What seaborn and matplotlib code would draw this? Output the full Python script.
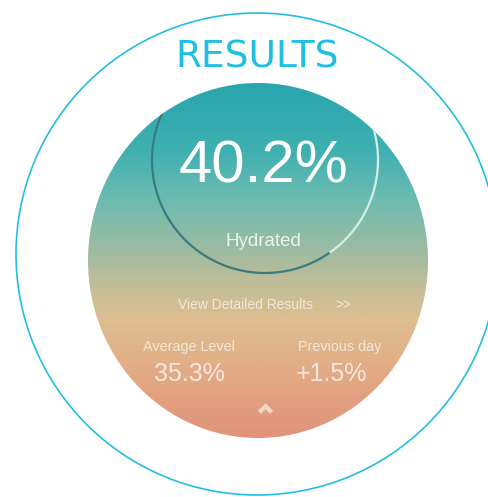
import numpy as np
import matplotlib
matplotlib.use("Agg")
import matplotlib.pyplot as plt
import seaborn as sns
from matplotlib.colors import LinearSegmentedColormap
from matplotlib.patches import Ellipse, Circle, Arc
from matplotlib.path import Path

sns.set_theme(style="white")
plt.rcParams['font.family'] = ['Liberation Sans', 'DejaVu Sans']

# chart content
title = "RESULTS"
main_value = "40.2%"
main_label = "Hydrated"
link_text = "View Detailed Results"
stat_labels = ["Average Level", "Previous day"]
stat_values = ["35.3%", "+1.5%"]

# vertical gradient of the disc (position, colour)
grad_pos = [0.0, 0.19, 0.33, 0.47, 0.58, 0.67, 0.78, 0.89, 1.0]
grad_col = ["#28a6ae", "#3fb0b0", "#6ebcb0", "#9dbba0", "#c6bd98",
            "#ddbd90", "#e2b088", "#e2a080", "#e0937a"]

W, H = 488, 497
fig = plt.figure(figsize=(W / 100, H / 100), dpi=100)
ax = fig.add_axes([0, 0, 1, 1])
ax.set_xlim(0, W)
ax.set_ylim(H, 0)
ax.axis("off")

# outer thin ring
ax.add_patch(Circle((257, 254), 241, fill=False, ec="#22bfe2", lw=1.2))

# gradient disc
disc = Ellipse((258, 260.5), 340, 355, fc="none", ec="none")
ax.add_patch(disc)
cmap = LinearSegmentedColormap.from_list("disc", list(zip(grad_pos, grad_col)))
grad = np.linspace(0, 1, 256)[:, None]
img = ax.imshow(grad, cmap=cmap, extent=(88, 428, 438, 83), origin="upper",
                aspect="auto", interpolation="bilinear")
img.set_clip_path(disc)

# progress ring inside disc
dark = Arc((265, 160), 226, 226, theta1=55, theta2=270, color="#3b7b80", lw=1.6)
light = Arc((265, 160), 226, 226, theta1=-90, theta2=55, color="#d6ece8", lw=1.6)
for a in (dark, light):
    ax.add_patch(a)
    a.set_clip_path(disc)

# texts
ax.text(257, 58, title, color="#1fbfe3", fontsize=27, ha="center", va="center",
        family=["DejaVu Sans"])
ax.text(263, 167, main_value, color="white", fontsize=43, ha="center", va="center",
        family=["Liberation Sans Narrow", "Liberation Sans"])
ax.text(263, 242, main_label, color="#eef4ee", fontsize=13.5, ha="center", va="center")
ax.text(246, 305, link_text, color="#f4efe4", fontsize=10, ha="center", va="center", alpha=0.9)
ax.text(343, 305, ">>", color="#f4efe4", fontsize=10, ha="center", va="center", alpha=0.9)

for x, lab in zip([189, 340], stat_labels):
    ax.text(x, 347, lab, color="#f6efe4", fontsize=10.4, ha="center", va="center", alpha=0.85)
for x, val in zip([189, 331], stat_values):
    ax.text(x, 374, val, color="#f8f1e8", fontsize=18, ha="center", va="center", alpha=0.9)

# little chevron
chev = Path([(-1, -0.3), (0, 0.7), (1, -0.3), (0.6, -0.7), (0, -0.1), (-0.6, -0.7), (-1, -0.3)],
            [Path.MOVETO] + [Path.LINETO] * 5 + [Path.CLOSEPOLY])
ax.plot([265], [408], marker=chev, markersize=11, color="#f3dccd", mec="none", alpha=0.9)

fig.savefig("out.png", dpi=100)
